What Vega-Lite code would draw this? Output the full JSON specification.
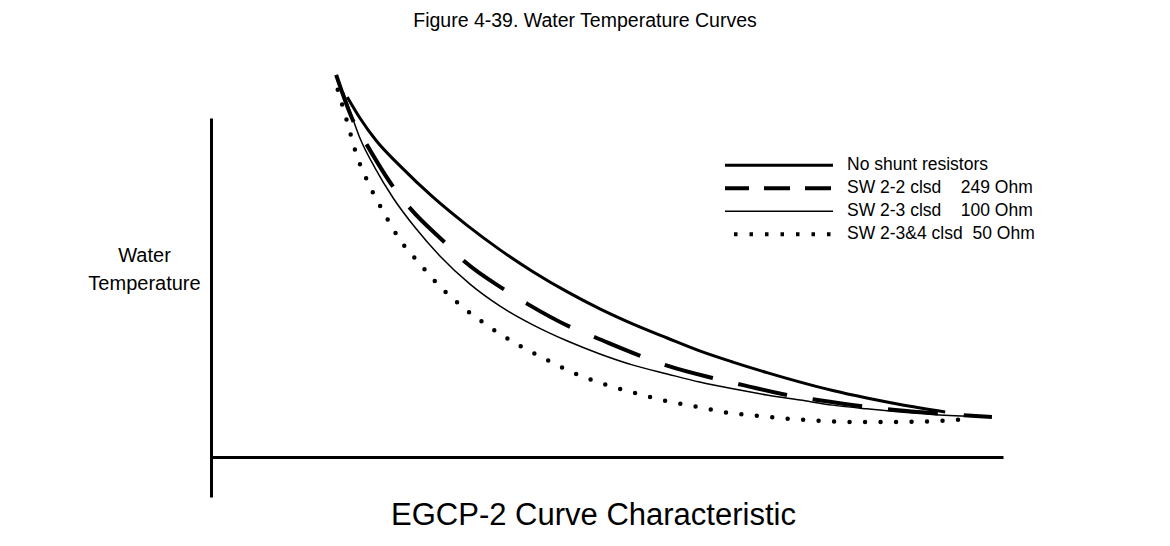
{
  "$schema": "https://vega.github.io/schema/vega-lite/v6.json",
  "width": 792,
  "height": 379,
  "autosize": {"type": "none"},
  "padding": {"left": 211, "top": 118, "right": 167, "bottom": 49},
  "background": "white",
  "config": {"view": {"stroke": null}, "font": "Liberation Sans"},
  "title": {
    "text": "Figure 4-39. Water Temperature Curves",
    "fontSize": 19.5,
    "fontWeight": "normal",
    "font": "Liberation Sans",
    "color": "black",
    "anchor": "middle",
    "frame": "group",
    "offset": 35,
    "dx": -22
  },
  "data": {
    "values": [
      {"series": "No shunt resistors", "x": 17.2, "y": 106.2},
      {"series": "No shunt resistors", "x": 18.8, "y": 100.0},
      {"series": "No shunt resistors", "x": 20.9, "y": 93.2},
      {"series": "No shunt resistors", "x": 23.9, "y": 85.8},
      {"series": "No shunt resistors", "x": 28.0, "y": 76.7},
      {"series": "No shunt resistors", "x": 32.3, "y": 68.4},
      {"series": "No shunt resistors", "x": 36.5, "y": 61.1},
      {"series": "No shunt resistors", "x": 40.7, "y": 54.6},
      {"series": "No shunt resistors", "x": 45.0, "y": 48.7},
      {"series": "No shunt resistors", "x": 49.1, "y": 43.7},
      {"series": "No shunt resistors", "x": 53.3, "y": 39.2},
      {"series": "No shunt resistors", "x": 57.6, "y": 35.1},
      {"series": "No shunt resistors", "x": 61.7, "y": 31.3},
      {"series": "No shunt resistors", "x": 65.9, "y": 28.0},
      {"series": "No shunt resistors", "x": 70.2, "y": 24.9},
      {"series": "No shunt resistors", "x": 74.4, "y": 22.1},
      {"series": "No shunt resistors", "x": 78.5, "y": 19.6},
      {"series": "No shunt resistors", "x": 82.8, "y": 17.4},
      {"series": "No shunt resistors", "x": 87.0, "y": 15.5},
      {"series": "No shunt resistors", "x": 92.7, "y": 13.3},

      {"series": "SW 2-2 clsd", "x": 15.8, "y": 112.7},
      {"series": "SW 2-2 clsd", "x": 17.9, "y": 99.4},
      {"series": "SW 2-2 clsd", "x": 19.7, "y": 92.0},
      {"series": "SW 2-2 clsd", "x": 23.0, "y": 79.7},
      {"series": "SW 2-2 clsd", "x": 25.1, "y": 73.5},
      {"series": "SW 2-2 clsd", "x": 29.6, "y": 63.1},
      {"series": "SW 2-2 clsd", "x": 32.1, "y": 57.5},
      {"series": "SW 2-2 clsd", "x": 37.1, "y": 49.3},
      {"series": "SW 2-2 clsd", "x": 40.0, "y": 45.1},
      {"series": "SW 2-2 clsd", "x": 45.6, "y": 38.1},
      {"series": "SW 2-2 clsd", "x": 48.7, "y": 35.1},
      {"series": "SW 2-2 clsd", "x": 54.6, "y": 29.5},
      {"series": "SW 2-2 clsd", "x": 57.8, "y": 26.8},
      {"series": "SW 2-2 clsd", "x": 63.9, "y": 23.0},
      {"series": "SW 2-2 clsd", "x": 67.2, "y": 21.2},
      {"series": "SW 2-2 clsd", "x": 73.4, "y": 18.0},
      {"series": "SW 2-2 clsd", "x": 76.6, "y": 16.8},
      {"series": "SW 2-2 clsd", "x": 82.8, "y": 14.8},
      {"series": "SW 2-2 clsd", "x": 86.4, "y": 13.9},
      {"series": "SW 2-2 clsd", "x": 92.7, "y": 12.7},
      {"series": "SW 2-2 clsd", "x": 98.6, "y": 11.8},

      {"series": "SW 2-3 clsd", "x": 16.7, "y": 107.7},
      {"series": "SW 2-3 clsd", "x": 17.6, "y": 101.8},
      {"series": "SW 2-3 clsd", "x": 18.8, "y": 94.1},
      {"series": "SW 2-3 clsd", "x": 20.7, "y": 85.3},
      {"series": "SW 2-3 clsd", "x": 23.0, "y": 76.4},
      {"series": "SW 2-3 clsd", "x": 25.8, "y": 67.6},
      {"series": "SW 2-3 clsd", "x": 28.9, "y": 59.3},
      {"series": "SW 2-3 clsd", "x": 32.7, "y": 51.0},
      {"series": "SW 2-3 clsd", "x": 36.5, "y": 44.5},
      {"series": "SW 2-3 clsd", "x": 40.7, "y": 38.9},
      {"series": "SW 2-3 clsd", "x": 45.0, "y": 34.2},
      {"series": "SW 2-3 clsd", "x": 49.1, "y": 30.4},
      {"series": "SW 2-3 clsd", "x": 53.3, "y": 27.1},
      {"series": "SW 2-3 clsd", "x": 57.6, "y": 24.5},
      {"series": "SW 2-3 clsd", "x": 61.7, "y": 22.1},
      {"series": "SW 2-3 clsd", "x": 65.9, "y": 20.1},
      {"series": "SW 2-3 clsd", "x": 70.2, "y": 18.3},
      {"series": "SW 2-3 clsd", "x": 74.4, "y": 16.8},
      {"series": "SW 2-3 clsd", "x": 78.5, "y": 15.3},
      {"series": "SW 2-3 clsd", "x": 82.8, "y": 14.2},
      {"series": "SW 2-3 clsd", "x": 87.0, "y": 13.3},
      {"series": "SW 2-3 clsd", "x": 92.0, "y": 12.4},
      {"series": "SW 2-3 clsd", "x": 98.6, "y": 11.8},

      {"series": "SW 2-3&4 clsd", "x": 16.0, "y": 108.3},
      {"series": "SW 2-3&4 clsd", "x": 17.2, "y": 98.8},
      {"series": "SW 2-3&4 clsd", "x": 18.3, "y": 89.7},
      {"series": "SW 2-3&4 clsd", "x": 19.8, "y": 81.1},
      {"series": "SW 2-3&4 clsd", "x": 21.7, "y": 72.6},
      {"series": "SW 2-3&4 clsd", "x": 23.7, "y": 64.6},
      {"series": "SW 2-3&4 clsd", "x": 26.3, "y": 57.2},
      {"series": "SW 2-3&4 clsd", "x": 29.0, "y": 50.1},
      {"series": "SW 2-3&4 clsd", "x": 31.9, "y": 44.0},
      {"series": "SW 2-3&4 clsd", "x": 35.2, "y": 38.3},
      {"series": "SW 2-3&4 clsd", "x": 38.6, "y": 33.3},
      {"series": "SW 2-3&4 clsd", "x": 42.2, "y": 28.9},
      {"series": "SW 2-3&4 clsd", "x": 45.8, "y": 24.8},
      {"series": "SW 2-3&4 clsd", "x": 49.6, "y": 21.5},
      {"series": "SW 2-3&4 clsd", "x": 53.5, "y": 18.9},
      {"series": "SW 2-3&4 clsd", "x": 57.5, "y": 16.5},
      {"series": "SW 2-3&4 clsd", "x": 61.4, "y": 14.8},
      {"series": "SW 2-3&4 clsd", "x": 65.4, "y": 13.0},
      {"series": "SW 2-3&4 clsd", "x": 69.4, "y": 12.1},
      {"series": "SW 2-3&4 clsd", "x": 73.4, "y": 11.2},
      {"series": "SW 2-3&4 clsd", "x": 77.4, "y": 10.6},
      {"series": "SW 2-3&4 clsd", "x": 81.4, "y": 10.3},
      {"series": "SW 2-3&4 clsd", "x": 85.5, "y": 10.3},
      {"series": "SW 2-3&4 clsd", "x": 91.7, "y": 10.6},
      {"series": "SW 2-3&4 clsd", "x": 95.6, "y": 11.2}
    ]
  },
  "layer": [
    {
      "encoding": {
        "x": {
          "field": "x",
          "type": "quantitative",
          "scale": {"domain": [0, 100], "nice": false, "zero": false},
          "axis": {
            "title": "EGCP-2 Curve Characteristic",
            "orient": "bottom",
            "offset": -40,
            "domain": true,
            "domainColor": "black",
            "domainWidth": 3,
            "ticks": false,
            "labels": false,
            "grid": false,
            "titleFont": "Liberation Sans",
            "titleFontSize": 31,
            "titleFontWeight": "normal",
            "titleColor": "black",
            "titleX": 382,
            "titleY": 58,
            "titleAlign": "center",
            "titleBaseline": "middle"
          }
        },
        "y": {
          "field": "y",
          "type": "quantitative",
          "scale": {"domain": [-11.8, 100], "nice": false, "zero": false},
          "axis": {
            "title": ["Water", "Temperature"],
            "orient": "left",
            "domain": true,
            "domainColor": "black",
            "domainWidth": 3,
            "ticks": false,
            "labels": false,
            "grid": false,
            "titleFont": "Liberation Sans",
            "titleFontSize": 20,
            "titleFontWeight": "normal",
            "titleColor": "black",
            "titleAngle": 0,
            "titleAlign": "center",
            "titleBaseline": "middle",
            "titleLineHeight": 28,
            "titleX": -67,
            "titleY": 137
          }
        }
      },
      "layer": [
        {
          "transform": [{"filter": "datum.series === 'No shunt resistors'"}],
          "mark": {"type": "line", "color": "black", "strokeWidth": 3, "interpolate": "monotone"}
        },
        {
          "transform": [{"filter": "datum.series === 'SW 2-2 clsd'"}],
          "mark": {"type": "line", "color": "black", "strokeWidth": 4, "strokeDash": [50, 26], "strokeCap": "butt", "interpolate": "monotone"}
        },
        {
          "transform": [{"filter": "datum.series === 'SW 2-3 clsd'"}],
          "mark": {"type": "line", "color": "black", "strokeWidth": 1.5, "interpolate": "monotone"}
        },
        {
          "transform": [{"filter": "datum.series === 'SW 2-3&4 clsd'"}],
          "mark": {"type": "line", "color": "black", "strokeWidth": 4.5, "strokeDash": [0, 15.5], "strokeCap": "round", "interpolate": "monotone"}
        }
      ]
    },
    {
      "mark": {"type": "line", "color": "black", "strokeCap": "butt"},
      "encoding": {
        "strokeDash": {
          "field": "series",
          "type": "nominal",
          "scale": {
            "domain": ["No shunt resistors", "SW 2-2 clsd", "SW 2-3 clsd", "SW 2-3&4 clsd"],
            "range": [[1, 0], [26, 15], [1, 0], [3.5, 12]]
          },
          "legend": {
            "title": null,
            "orient": "none",
            "legendX": 514,
            "legendY": 36,
            "padding": 0,
            "rowPadding": 0,
            "clipHeight": 22.7,
            "symbolType": "M-9.6,0H9.6",
            "symbolSize": 400,
            "symbolStrokeColor": "black",
            "labelFont": "Liberation Sans",
            "labelFontSize": 17.5,
            "labelColor": "black",
            "labelOffset": 98,
            "labelLimit": 400,
            "labelExpr": "datum.label === 'SW 2-2 clsd' ? datum.label + '\u00a0\u00a0\u00a0\u00a0249 Ohm' : datum.label === 'SW 2-3 clsd' ? datum.label + '\u00a0\u00a0\u00a0\u00a0100 Ohm' : datum.label === 'SW 2-3&4 clsd' ? datum.label + '\u00a0\u00a050 Ohm' : datum.label"
          }
        },
        "strokeWidth": {
          "field": "series",
          "type": "nominal",
          "scale": {
            "type": "ordinal",
            "domain": ["No shunt resistors", "SW 2-2 clsd", "SW 2-3 clsd", "SW 2-3&4 clsd"],
            "range": [3, 4, 1.5, 4]
          }
        }
      }
    }
  ]
}
